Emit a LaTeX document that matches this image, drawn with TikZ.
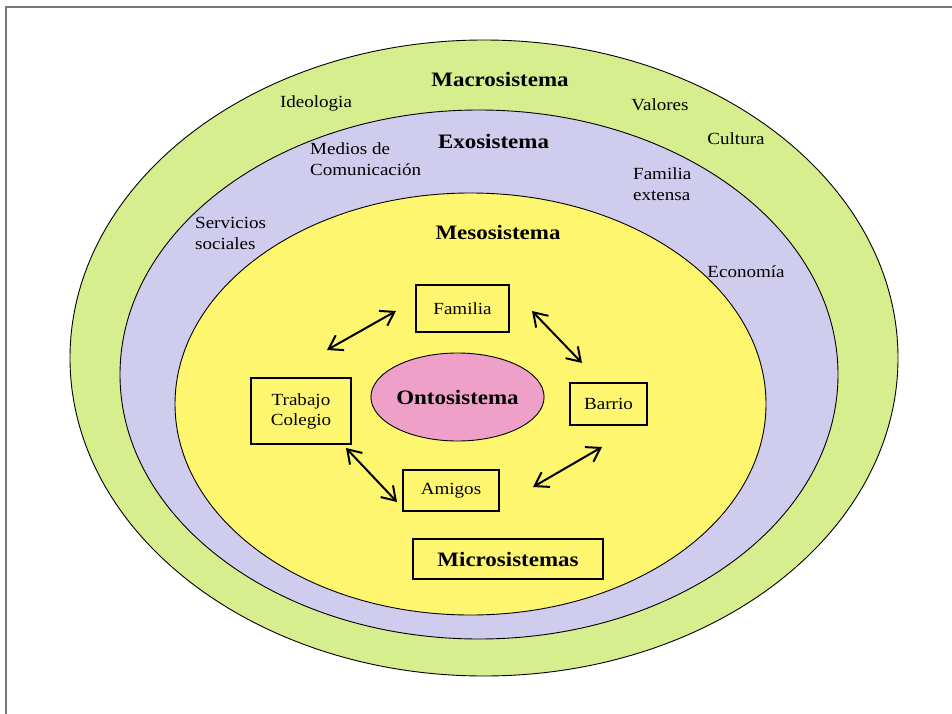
\documentclass[tikz,border=0pt]{standalone}
\usepackage{fontspec}
\setmainfont{Liberation Serif}[FakeStretch=1.12]
\usetikzlibrary{arrows.meta,shapes.geometric}

\definecolor{macrocol}{RGB}{215,238,142}
\definecolor{exocol}{RGB}{208,204,238}
\definecolor{mesocol}{RGB}{255,246,112}
\definecolor{ontocol}{RGB}{238,160,200}
\definecolor{marco}{RGB}{118,118,118}

\tikzset{
  sistema/.style={font=\fontsize{20.5}{23}\selectfont\bfseries},
  etiqueta/.style={font=\fontsize{17}{21}\selectfont, align=left, inner sep=0pt},
  caja/.style={draw, line width=1.4pt, font=\fontsize{17}{20}\selectfont, align=center, inner sep=0pt},
  relacion/.style={{Straight Barb[length=13pt,width=17pt]}-{Straight Barb[length=13pt,width=17pt]}, line width=2pt},
}

\begin{document}
\begin{tikzpicture}[x=1pt,y=-1pt]
        % Page size and frame (left and top edges)
        \useasboundingbox (0,0) rectangle (952,714);
        \draw[marco, line width=2pt] (6,714) -- (6,7) -- (952,7);

        % Nested systems
        \filldraw[fill=macrocol, line width=0.9pt] (484,358) ellipse [x radius=414pt, y radius=318pt];
        \filldraw[fill=exocol, line width=0.9pt] (479,374.5) ellipse [x radius=359pt, y radius=264.5pt];
        \filldraw[fill=mesocol, line width=0.9pt] (470.5,404) ellipse [x radius=295.5pt, y radius=211pt];

        % System titles
        \node[sistema] (macro) at (500,79) {Macrosistema};
        \node[sistema] (exo) at (493.5,141) {Exosistema};
        \node[sistema] (meso) at (498,232) {Mesosistema};

        % Macrosystem labels
        \node[etiqueta] (ideologia) at (316,103) {Ideologia};
        \node[etiqueta] (valores) at (660,105) {Valores};
        \node[etiqueta] (cultura) at (736,139) {Cultura};

        % Exosystem labels
        \node[etiqueta, anchor=west] (medios) at (310,159.5) {Medios de\\Comunicación};
        \node[etiqueta, anchor=west] (servicios) at (195,233) {Servicios\\sociales};
        \node[etiqueta, anchor=west] (extensa) at (633,184.5) {Familia\\extensa};
        \node[etiqueta] (economia) at (746,272) {Economía};

        % Centre
        \node[ellipse, draw, line width=0.9pt, fill=ontocol, minimum width=139pt, minimum height=88pt, inner sep=0pt,
              sistema] (onto) at (457.5,397) {Ontosistema};

        % Microsystems
        \node[caja, minimum width=93pt, minimum height=47pt] (familia) at (462.5,308.5) {Familia};
        \node[caja, minimum width=100pt, minimum height=66pt] (trabajo) at (301,411) {Trabajo\\Colegio};
        \node[caja, minimum width=77pt, minimum height=42pt] (barrio) at (608.5,404) {Barrio};
        \node[caja, minimum width=96pt, minimum height=41pt] (amigos) at (451,490.5) {Amigos};
        \node[caja, sistema, minimum width=190pt, minimum height=40pt] (micro) at (508,559) {Microsistemas};

        % Relations between microsystems
        \coordinate (tf) at (327,350);
        \coordinate (ft) at (396,311);
        \coordinate (fb) at (532,311);
        \coordinate (bf) at (582,363);
        \coordinate (ta) at (346,448);
        \coordinate (at) at (397,502);
        \coordinate (ab) at (533,487);
        \coordinate (ba) at (602,447);
        \draw[relacion] (tf) -- (ft);
        \draw[relacion] (fb) -- (bf);
        \draw[relacion] (ta) -- (at);
        \draw[relacion] (ab) -- (ba);
\end{tikzpicture}
\end{document}
